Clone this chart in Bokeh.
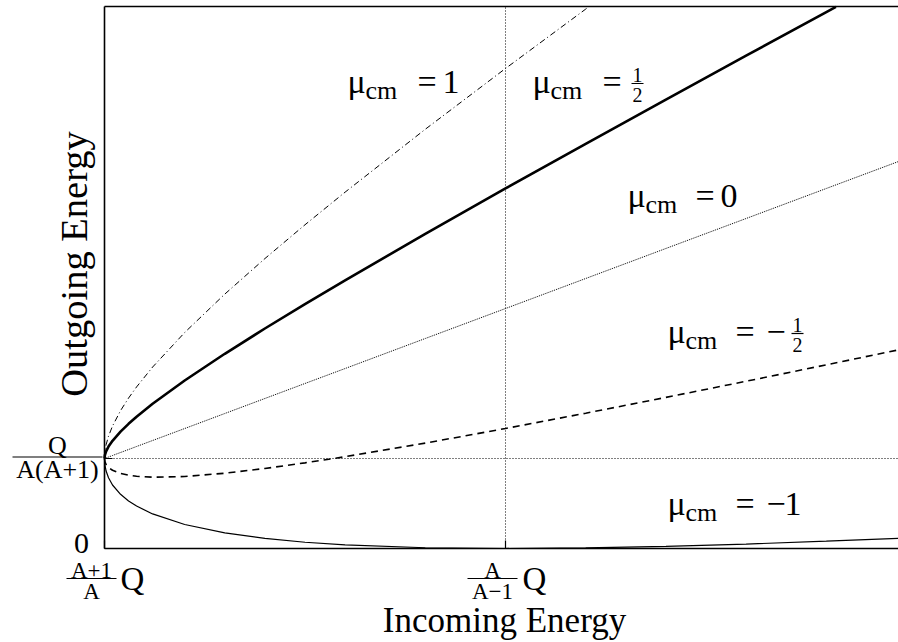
import math
from bokeh.plotting import figure
from bokeh.models import LinearAxis, FixedTicker
from bokeh.core.properties import value
from bokeh.embed import file_html
from bokeh.resources import INLINE

# Incoming energy (units of Q) and outgoing energy for each CM cosine, A = 2
incoming = [1.5, 1.5005, 1.502, 1.505, 1.51, 1.52, 1.53, 1.54, 1.56, 1.6, 1.65,
            1.7, 1.75, 1.8, 1.9, 2.0, 2.1, 2.2, 2.3, 2.4, 2.5]
# mu_cm = 1 and 1/2 leave the box through its top edge
incoming_p1 = [1.5, 1.5005, 1.502, 1.505, 1.51, 1.52, 1.53, 1.54, 1.56, 1.6, 1.65,
               1.7, 1.75, 1.8, 1.9, 2.0, 2.1, 2.104]
out_mu_p1 = [0.1667, 0.1791, 0.1921, 0.2080, 0.2268, 0.2553, 0.2786, 0.2992, 0.3360,
             0.4000, 0.4711, 0.5369, 0.5995, 0.6599, 0.7764, 0.8889, 0.9989, 1.0035]
incoming_p05 = [1.5, 1.5005, 1.502, 1.505, 1.51, 1.52, 1.53, 1.54, 1.56, 1.6, 1.65,
                1.7, 1.75, 1.8, 1.9, 2.0, 2.1, 2.2, 2.3, 2.4, 2.412]
out_mu_p05 = [0.1667, 0.1730, 0.1800, 0.1887, 0.1995, 0.2165, 0.2309, 0.2440, 0.2680,
              0.3111, 0.3606, 0.4074, 0.4525, 0.4966, 0.5826, 0.6667, 0.7494, 0.8313,
              0.9126, 0.9933, 1.0029]
out_mu_0 = [0.1667, 0.1669, 0.1678, 0.1694, 0.1722, 0.1778, 0.1833, 0.1889, 0.2000,
            0.2222, 0.2500, 0.2778, 0.3056, 0.3333, 0.3889, 0.4444, 0.5000, 0.5556,
            0.6111, 0.6667, 0.7222]
out_mu_m05 = [0.1667, 0.1609, 0.1556, 0.1502, 0.1449, 0.1390, 0.1357, 0.1337, 0.1320,
              0.1333, 0.1394, 0.1482, 0.1586, 0.1700, 0.1952, 0.2222, 0.2506, 0.2798,
              0.3097, 0.3401, 0.3709]
out_mu_m1 = [0.1667, 0.1548, 0.1434, 0.1309, 0.1176, 0.1003, 0.0881, 0.0786, 0.0640,
             0.0444, 0.0289, 0.0186, 0.0116, 0.0067, 0.0014, 0.0000, 0.0011, 0.0040,
             0.0082, 0.0135, 0.0195]

threshold = 1.5          # (A+1)/A Q
touch_point = 2.0        # A/(A-1) Q
threshold_out = 1 / 6    # Q/(A(A+1))
x_ticks = [threshold, touch_point]
y_ticks = [0, threshold_out]

# canvas placement of the box (px): left edge, top edge, bottom edge
W, H = 898, 642
BOX_L, BOX_T, BOX_B = 104, 6, 548
X_PER_UNIT, Y_PER_UNIT = 802.0, 540.0
x_lo = threshold - BOX_L / X_PER_UNIT
x_hi = threshold + (W - BOX_L) / X_PER_UNIT
y_lo = -(H - BOX_B) / Y_PER_UNIT
y_hi = BOX_B / Y_PER_UNIT
y_box_top = (BOX_B - BOX_T) / Y_PER_UNIT

SERIF = "Liberation Serif"
BASELINE_FIX = 0.28   # em; lifts the rendered alphabetic baseline onto the anchor

p = figure(width=W, height=H, x_range=(x_lo, x_hi), y_range=(y_lo, y_hi),
           output_backend="svg", toolbar_location=None,
           x_axis_location=None, y_axis_location=None,
           min_border=0)
p.outline_line_color = None
p.grid.visible = False
p.background_fill_color = "white"
p.border_fill_color = "white"


def box_axis(ticks, where, loc, bounds):
    ax = LinearAxis(ticker=FixedTicker(ticks=ticks), fixed_location=loc, bounds=bounds)
    ax.axis_line_color = "black"
    ax.axis_line_width = 1.6
    ax.major_tick_in = 8
    ax.major_tick_out = 0
    ax.major_tick_line_width = 1.2
    ax.minor_tick_line_color = None
    ax.major_label_text_color = None
    p.add_layout(ax, where)


box_axis(x_ticks, "below", 0, (threshold, x_hi))
box_axis(y_ticks, "left", threshold, (0, y_box_top))
box_axis([], "above", y_box_top, (threshold, x_hi))

# dotted guides through the touch point and the threshold outgoing energy
p.segment(x0=[touch_point], y0=[0], x1=[touch_point], y1=[y_box_top],
          line_color="black", line_width=1, line_dash="1 2")
p.segment(x0=[threshold], y0=[threshold_out], x1=[x_hi], y1=[threshold_out],
          line_color="black", line_width=1, line_dash="1 2")

p.line(incoming_p1, out_mu_p1, line_color="black", line_width=1, line_dash="6 3 1 3")
p.line(incoming_p05, out_mu_p05, line_color="black", line_width=2.6)
p.line(incoming, out_mu_0, line_color="black", line_width=1, line_dash="1 1")
p.line(incoming, out_mu_m05, line_color="black", line_width=1.6, line_dash="7 5")
p.line(incoming, out_mu_m1, line_color="black", line_width=1.2)


def at(px, py):
    return threshold + (px - BOX_L) / X_PER_UNIT, (BOX_B - py) / Y_PER_UNIT


def txt(s, px, py, size, align="left", angle=0.0):
    lift = BASELINE_FIX * size
    x, y = at(px - lift * math.sin(angle), py - lift * math.cos(angle))
    p.text(x=[x], y=[y], text=[s], text_font=value(SERIF),
           text_font_size=value(f"{size}px"), text_color="black",
           text_align=align, text_baseline="alphabetic", angle=angle)


def bar(cx, half, py, width=1.2):
    x0, y0 = at(cx - half, py)
    x1, _ = at(cx + half, py)
    p.segment(x0=[x0], y0=[y0], x1=[x1], y1=[y0], line_color="black", line_width=width)


def frac(num, den, cx, py_bar, size, half, num_gap=3, den_gap=17):
    txt(num, cx, py_bar - num_gap, size, "center")
    bar(cx, half, py_bar)
    txt(den, cx, py_bar + den_gap, size, "center")


F = 34
def mu_label(x0, base, eq_x):
    txt("μ", x0, base, F)
    txt("cm", x0 + 18, base + 6, 26)
    txt("=", eq_x, base, F)


# curve labels
mu_label(347, 91, 417); txt("1", 442, 91, F)
mu_label(532, 91, 602); frac("1", "2", 637, 83, 20, 6)
mu_label(627, 205, 695); txt("0", 720, 205, F)
mu_label(667, 341, 735); txt("−", 766, 341, F); frac("1", "2", 797, 333, 20, 6)
mu_label(667, 513, 735); txt("−", 766, 513, F); txt("1", 784, 513, F)

# tick labels
txt("0", 81, 551, 30, "center")
frac("Q", "A(A+1)", 57, 456.5, 26, 45, num_gap=4, den_gap=20)
frac("A+1", "A", 91, 578, 23, 25, num_gap=2, den_gap=19)
txt("Q", 120, 588, 33)
frac("A", "A−1", 492, 578, 23, 25, num_gap=2, den_gap=19)
txt("Q", 522, 588, 33)

# axis titles
txt("Incoming Energy", 504, 630, 35, "center")
txt("Outgoing Energy", 84, 263.5, 38.5, "center", angle=math.pi / 2)

open("out.html", "w").write(file_html(p, INLINE))
